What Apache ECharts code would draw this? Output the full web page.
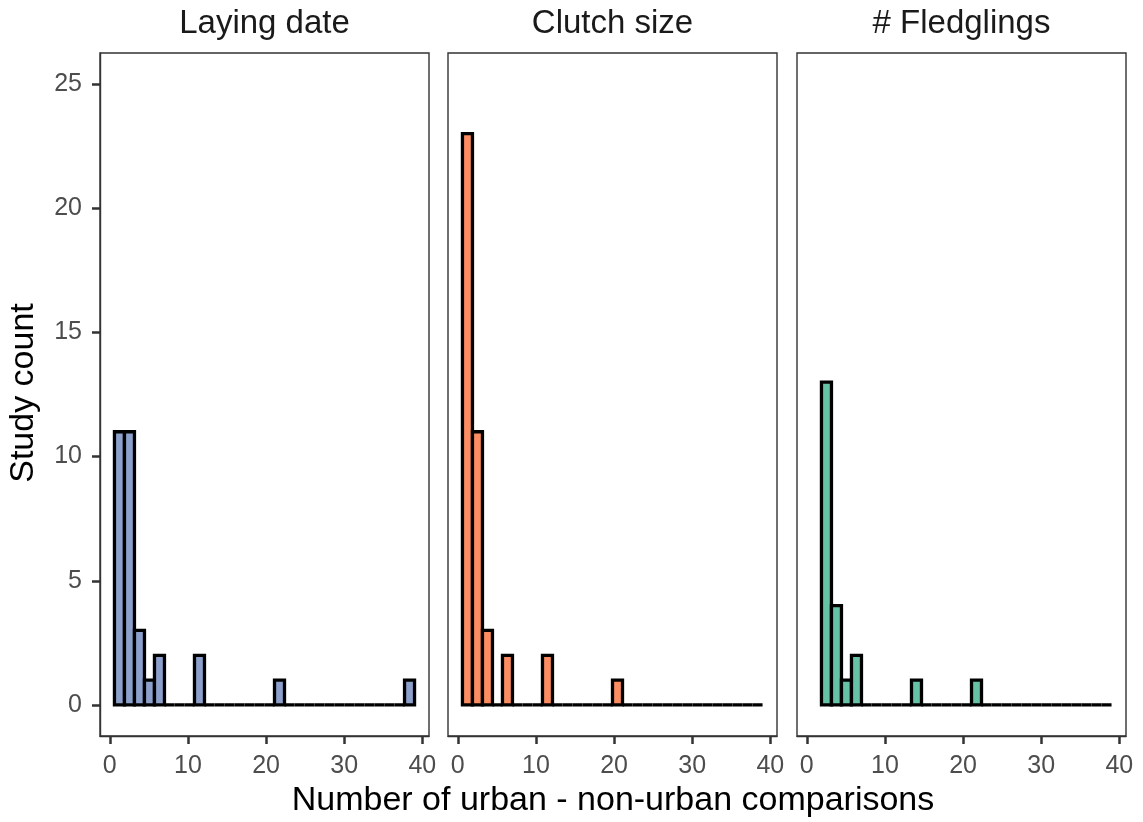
<!DOCTYPE html>
<html>
<head>
<meta charset="utf-8">
<script src="https://cdn.jsdelivr.net/npm/echarts@6/dist/echarts.min.js"></script>
<style>
  html, body { margin: 0; padding: 0; background: #fff; }
  #chart { width: 1143px; height: 822px; }
</style>
</head>
<body>
<div id="chart"></div>
<script>
// histogram bins shared by all panels
const binStart = 0.6;
const binWidth = 1.28;

const panelTitles = ['Laying date', 'Clutch size', '# Fledglings'];
const panelColors = ['#8DA0CB', '#FC8D62', '#66C2A5'];

// study counts per bin (null = bin not drawn)
const layingCounts = [11, 11, 3, 1, 2, 0, 0, 0, 2, 0, 0, 0, 0, 0, 0, 0, 1, 0, 0, 0, 0, 0, 0, 0, 0, 0, 0, 0, 0, 1];
const clutchCounts = [23, 11, 3, 0, 2, 0, 0, 0, 2, 0, 0, 0, 0, 0, 0, 1, 0, 0, 0, 0, 0, 0, 0, 0, 0, 0, 0, 0, 0, 0];
const fledglingCounts = [null, 13, 4, 1, 2, 0, 0, 0, 0, 0, 1, 0, 0, 0, 0, 0, 1, 0, 0, 0, 0, 0, 0, 0, 0, 0, 0, 0, 0, 0];

const xTicks = [0, 10, 20, 30, 40];
const yTicks = [0, 5, 10, 15, 20, 25];

const font = 'Liberation Sans, Arial, sans-serif';
const panelLefts = [100, 448, 797];
const panelWidth = 329;
const panelTop = 53;
const panelHeight = 683;

const chart = echarts.init(document.getElementById('chart'), null, { renderer: 'canvas' });

function toBins(counts) {
  const out = [];
  counts.forEach((n, i) => {
    if (n === null) return;
    out.push([binStart + i * binWidth, binStart + (i + 1) * binWidth, n]);
  });
  return out;
}

function binRenderer(color) {
  return function (params, api) {
    const p0 = api.coord([api.value(0), 0]);
    const p1 = api.coord([api.value(1), api.value(2)]);
    return {
      type: 'rect',
      shape: { x: p0[0], y: p1[1], width: p1[0] - p0[0], height: p0[1] - p1[1] },
      style: { fill: color, stroke: '#000', lineWidth: 3.3 }
    };
  };
}

const allCounts = [layingCounts, clutchCounts, fledglingCounts];

const grids = panelLefts.map(left => ({
  left: left, top: panelTop, width: panelWidth, height: panelHeight,
  show: true, borderColor: '#333', borderWidth: 1.4, backgroundColor: 'transparent'
}));

const xAxes = panelLefts.map((_, i) => ({
  type: 'value', gridIndex: i, min: -1.25, max: 40.85,
  splitLine: { show: false },
  axisLine: { show: true, onZero: false, lineStyle: { color: '#333', width: 1.4 } },
  axisTick: { show: true, length: 8, customValues: xTicks, lineStyle: { color: '#333', width: 2.5 } },
  axisLabel: { customValues: xTicks, color: '#4d4d4d', fontSize: 25, fontFamily: font, margin: 18 }
}));

const yAxes = panelLefts.map((_, i) => ({
  type: 'value', gridIndex: i, min: -1.25, max: 26.25,
  splitLine: { show: false },
  axisLine: { show: i === 0, onZero: false, lineStyle: { color: '#333', width: 1.4 } },
  axisTick: { show: i === 0, length: 8, customValues: yTicks, lineStyle: { color: '#333', width: 2.5 } },
  axisLabel: { show: i === 0, customValues: yTicks, color: '#4d4d4d', fontSize: 25, fontFamily: font, margin: 18 }
}));

const series = allCounts.map((counts, i) => ({
  type: 'custom',
  xAxisIndex: i, yAxisIndex: i,
  data: toBins(counts),
  renderItem: binRenderer(panelColors[i]),
  silent: true
}));

const graphics = panelTitles.map((t, i) => ({
  type: 'text',
  x: panelLefts[i] + panelWidth / 2, y: 24,
  style: { text: t, fill: '#1a1a1a', font: '33px ' + font, textAlign: 'center', textVerticalAlign: 'middle' }
}));
graphics.push({
  type: 'text', x: 613, y: 801,
  style: { text: 'Number of urban - non-urban comparisons', fill: '#000', font: '34px ' + font, textAlign: 'center', textVerticalAlign: 'middle' }
});
graphics.push({
  type: 'text', x: 24, y: 393, rotation: Math.PI / 2,
  style: { text: 'Study count', fill: '#000', font: '34px ' + font, textAlign: 'center', textVerticalAlign: 'middle' }
});

chart.setOption({
  animation: false,
  backgroundColor: '#fff',
  grid: grids,
  xAxis: xAxes,
  yAxis: yAxes,
  series: series,
  graphic: graphics
});
</script>
</body>
</html>
